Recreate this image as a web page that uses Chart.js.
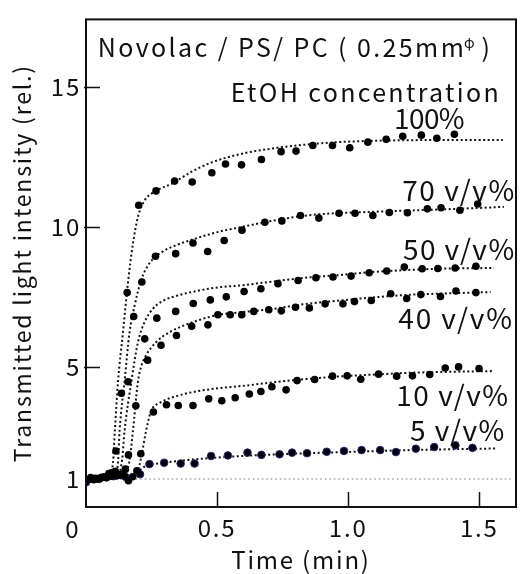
<!DOCTYPE html>
<html>
<head>
<meta charset="utf-8">
<title>Transmitted light intensity</title>
<script src="https://cdn.jsdelivr.net/npm/chart.js@4.4.1/dist/chart.umd.min.js"></script>
<style>
  body { margin: 0; background: #fff; }
</style>
</head>
<body>
<canvas id="myChart" width="521" height="574"></canvas>
<script>
// measured points, [time (min), transmitted intensity (rel.)]
var pts100 = [[0.0, 0.95], [0.037, 1.02], [0.07, 1.08], [0.099, 1.23], [0.114, 2.0], [0.135, 4.06], [0.157, 7.65], [0.201, 10.77], [0.267, 11.28], [0.338, 11.63], [0.405, 11.60], [0.48, 11.93], [0.532, 12.24], [0.593, 12.21], [0.669, 12.40], [0.744, 12.68], [0.801, 12.70], [0.865, 12.90], [0.94, 12.90], [1.006, 12.82], [1.075, 13.02], [1.145, 13.12], [1.208, 13.23], [1.279, 13.27], [1.338, 13.16], [1.405, 13.30]];
var pts70 = [[0.018, 1.05], [0.055, 1.03], [0.087, 1.19], [0.125, 1.15], [0.160, 4.47], [0.182, 6.80], [0.213, 8.03], [0.265, 8.95], [0.342, 9.04], [0.408, 9.42], [0.464, 9.12], [0.527, 9.51], [0.595, 9.88], [0.682, 10.16], [0.747, 10.21], [0.818, 10.40], [0.888, 10.31], [0.965, 10.48], [1.026, 10.48], [1.094, 10.40], [1.157, 10.51], [1.226, 10.50], [1.302, 10.64], [1.354, 10.68], [1.426, 10.59], [1.494, 10.81]];
var pts50 = [[0.01, 0.98], [0.045, 1.0], [0.08, 1.05], [0.112, 1.27], [0.15, 1.35], [0.162, 1.86], [0.224, 6.0], [0.270, 6.74], [0.342, 6.98], [0.409, 7.26], [0.474, 7.39], [0.535, 7.50], [0.603, 7.69], [0.667, 7.79], [0.732, 7.97], [0.809, 8.08], [0.877, 8.18], [0.942, 8.21], [1.011, 8.24], [1.080, 8.36], [1.147, 8.42], [1.214, 8.56], [1.282, 8.50], [1.342, 8.51], [1.408, 8.53], [1.487, 8.59]];
var pts40 = [[0.025, 1.0], [0.06, 1.06], [0.095, 1.1], [0.137, 1.17], [0.190, 3.61], [0.235, 5.24], [0.286, 5.77], [0.345, 6.12], [0.403, 6.45], [0.465, 6.50], [0.503, 6.86], [0.550, 6.86], [0.594, 6.86], [0.640, 6.98], [0.697, 7.04], [0.745, 7.00], [0.799, 7.13], [0.852, 7.10], [0.912, 7.25], [0.980, 7.25], [1.024, 7.33], [1.088, 7.37], [1.162, 7.61], [1.223, 7.44], [1.277, 7.58], [1.352, 7.51], [1.411, 7.71], [1.487, 7.65]];
var pts10 = [[0.03, 0.97], [0.075, 1.05], [0.12, 1.12], [0.162, 0.94], [0.178, 1.08], [0.194, 1.29], [0.209, 1.90], [0.257, 3.39], [0.307, 3.65], [0.352, 3.62], [0.408, 3.62], [0.468, 3.86], [0.518, 3.79], [0.569, 3.90], [0.623, 4.03], [0.667, 4.12], [0.709, 4.29], [0.763, 4.18], [0.805, 4.51], [0.872, 4.55], [0.940, 4.67], [0.996, 4.68], [1.048, 4.56], [1.116, 4.74], [1.185, 4.67], [1.245, 4.68], [1.311, 4.73], [1.370, 4.96], [1.421, 5.00], [1.499, 4.94]];
var pts5 = [[0.0, 0.88], [0.05, 1.0], [0.105, 1.1], [0.15, 1.08], [0.206, 1.17], [0.242, 1.53], [0.298, 1.58], [0.361, 1.55], [0.414, 1.55], [0.477, 1.82], [0.541, 1.84], [0.616, 1.94], [0.669, 1.86], [0.738, 1.88], [0.786, 1.94], [0.843, 1.92], [0.918, 1.97], [0.984, 2.0], [1.051, 2.03], [1.122, 2.03], [1.182, 1.96], [1.258, 2.08], [1.328, 2.14], [1.409, 2.20], [1.474, 2.11]];

// fitted curves (dotted)
var fit100 = [[0.06, 1.0], [0.09, 1.1], [0.103, 1.6], [0.110, 2.71], [0.122, 4.47], [0.141, 6.23], [0.160, 8.0], [0.179, 9.4], [0.198, 10.35], [0.223, 10.93], [0.267, 11.28], [0.33, 11.55], [0.40, 11.95], [0.48, 12.3], [0.606, 12.63], [0.732, 12.82], [0.858, 12.95], [0.984, 13.03], [1.109, 13.07], [1.235, 13.09], [1.59, 13.1]];
var fit70 = [[0.06, 1.0], [0.11, 1.1], [0.122, 1.6], [0.128, 2.71], [0.147, 4.47], [0.166, 6.23], [0.185, 7.17], [0.211, 8.11], [0.242, 8.70], [0.292, 9.11], [0.343, 9.34], [0.418, 9.58], [0.506, 9.82], [0.582, 9.97], [0.732, 10.25], [0.858, 10.42], [1.109, 10.54], [1.361, 10.62], [1.594, 10.71]];
var fit50 = [[0.06, 1.0], [0.12, 1.1], [0.138, 1.7], [0.147, 2.71], [0.173, 4.47], [0.198, 5.88], [0.223, 6.59], [0.254, 7.06], [0.292, 7.35], [0.343, 7.53], [0.418, 7.70], [0.506, 7.84], [0.582, 7.90], [0.707, 8.04], [0.833, 8.18], [0.958, 8.27], [1.084, 8.38], [1.21, 8.45], [1.336, 8.5], [1.556, 8.53]];
var fit40 = [[0.06, 1.0], [0.14, 1.1], [0.165, 1.6], [0.179, 2.71], [0.198, 4.47], [0.21, 5.0], [0.229, 5.41], [0.267, 5.88], [0.317, 6.23], [0.406, 6.59], [0.506, 6.86], [0.582, 6.94], [0.707, 7.06], [0.833, 7.24], [0.958, 7.36], [1.084, 7.47], [1.21, 7.56], [1.336, 7.61], [1.543, 7.67]];
var fit10 = [[0.06, 1.0], [0.18, 1.1], [0.2, 1.35], [0.215, 2.0], [0.229, 2.71], [0.248, 3.42], [0.28, 3.71], [0.343, 3.95], [0.418, 4.12], [0.506, 4.24], [0.606, 4.33], [0.732, 4.47], [0.858, 4.58], [0.984, 4.67], [1.109, 4.73], [1.235, 4.79], [1.361, 4.82], [1.55, 4.85]];
var fit5 = [[0.06, 1.0], [0.18, 1.1], [0.22, 1.42], [0.3, 1.58], [0.48, 1.75], [0.732, 1.88], [0.984, 1.96], [1.235, 2.03], [1.569, 2.09]];

// initial level
var baseLevel = [[0.19, 1], [1.62, 1]];

var seriesNames = ['100%', '70 v/v%', '50 v/v%', '40 v/v%', '10 v/v%', '5 v/v%'];
var xTicks = [0, 0.5, 1.0, 1.5];
var xTickLabels = ['0', '0.5', '1.0', '1.5'];
var yTicks = [1, 5, 10, 15];
var yTickLabels = ['1', '5', '10', '15'];
var titleParts = ['Novolac / PS/ PC ( 0.25mm', 'φ', ')'];
var legendTitle = 'EtOH concentration';

var FONT = "'Noto Sans CJK JP', 'DejaVu Sans', sans-serif";
Chart.defaults.font.family = FONT;
Chart.defaults.color = '#111';

function toXY(arr) {
    return arr.map(function (p) { return { x: p[0], y: p[1] }; });
}

function dots(arr, edge) {
    return {
        data: toXY(arr),
        showLine: false,
        pointRadius: 3.8,
        pointBackgroundColor: '#000',
        pointBorderColor: edge || '#000',
        pointBorderWidth: edge ? 1 : 0,
        order: 1
    };
}

function fitLine(arr) {
    return {
        data: toXY(arr),
        showLine: true,
        pointRadius: 0,
        borderColor: '#111',
        borderWidth: 2,
        borderDash: [2, 2.5],
        cubicInterpolationMode: 'monotone',
        order: 2
    };
}

// text stretched to a given pixel width with letter spacing
function spacedText(ctx, text, x, y, width) {
    ctx.letterSpacing = '0px';
    var natural = ctx.measureText(text).width;
    var gap = text.length > 1 ? (width - natural) / (text.length - 1) : 0;
    ctx.letterSpacing = gap + 'px';
    ctx.fillText(text, x, y);
    ctx.letterSpacing = '0px';
}

// label boxes in data units: left time, right time, middle value
var labelSpots = [
    [1.175, 1.444, 13.88],
    [1.206, 1.633, 11.31],
    [1.209, 1.633, 9.19],
    [1.191, 1.625, 6.73],
    [1.183, 1.610, 3.98],
    [1.236, 1.595, 2.75]
];

var framePlugin = {
    id: 'frame',
    beforeDraw: function (chart) {
        chart.ctx.letterSpacing = '1.8px';
    },
    afterDraw: function (chart) {
        var ctx = chart.ctx, a = chart.chartArea;
        var xs = chart.scales.x, ys = chart.scales.y;
        ctx.save();
        ctx.letterSpacing = '0px';
        ctx.strokeStyle = '#111';
        ctx.lineWidth = 2;
        ctx.strokeRect(a.left, a.top, a.right - a.left, a.bottom - a.top);

        // inward tick marks
        ctx.lineWidth = 1.5;
        ctx.beginPath();
        xTicks.forEach(function (v) {
            if (v === 0) return;
            var px = Math.round(xs.getPixelForValue(v)) + 0.5;
            ctx.moveTo(px, a.bottom);
            ctx.lineTo(px, a.bottom - 15);
        });
        yTicks.forEach(function (v) {
            if (v < 5) return; // the initial level has no mark
            var py = Math.round(ys.getPixelForValue(v)) + 0.5;
            ctx.moveTo(a.left - 2, py);
            ctx.lineTo(a.left + 14, py);
        });
        ctx.stroke();

        ctx.fillStyle = '#111';
        ctx.textBaseline = 'middle';

        // origin label sits at the corner
        ctx.font = '24px ' + FONT;
        ctx.textAlign = 'center';
        ctx.fillText(xTickLabels[0], a.left - 14, a.bottom + 22);
        ctx.textAlign = 'left';

        // heading
        ctx.font = '25px ' + FONT;
        spacedText(ctx, titleParts[0], xs.getPixelForValue(0.045), ys.getPixelForValue(16.41), 366);
        ctx.font = '14px ' + FONT;
        ctx.fillText(titleParts[1], xs.getPixelForValue(1.442), ys.getPixelForValue(16.58));
        ctx.font = '25px ' + FONT;
        ctx.fillText(titleParts[2], xs.getPixelForValue(1.508), ys.getPixelForValue(16.41));
        spacedText(ctx, legendTitle, xs.getPixelForValue(0.552), ys.getPixelForValue(14.79), 268);

        // concentration labels
        ctx.font = '28px ' + FONT;
        seriesNames.forEach(function (name, i) {
            var s = labelSpots[i];
            var x0 = xs.getPixelForValue(s[0]);
            var x1 = xs.getPixelForValue(s[1]);
            spacedText(ctx, name, x0, ys.getPixelForValue(s[2]), x1 - x0);
        });
        ctx.restore();
    }
};

const ctx = document.getElementById('myChart');

new Chart(ctx, {
    type: 'scatter',
    data: {
        datasets: [
            dots(pts100), dots(pts70), dots(pts50), dots(pts40), dots(pts10), dots(pts5, '#23238a'),
            fitLine(fit100), fitLine(fit70), fitLine(fit50), fitLine(fit40), fitLine(fit10), fitLine(fit5),
            {
                data: toXY(baseLevel),
                showLine: true,
                pointRadius: 0,
                borderColor: '#777',
                borderWidth: 1.2,
                borderDash: [1.5, 3],
                order: 3
            }
        ]
    },
    options: {
        responsive: false,
        animation: false,
        devicePixelRatio: 1,
        layout: { padding: { top: 13, right: 1, left: 0, bottom: 0 } },
        plugins: {
            legend: { display: false },
            tooltip: { enabled: false }
        },
        scales: {
            x: {
                type: 'linear',
                min: 0,
                max: 1.64,
                grid: { display: false, drawTicks: false },
                border: { display: false },
                afterBuildTicks: function (scale) {
                    scale.ticks = xTicks.map(function (v) { return { value: v }; });
                },
                ticks: {
                    color: '#111',
                    font: { size: 24 },
                    padding: 6,
                    maxRotation: 0,
                    autoSkip: false,
                    callback: function (value, index) {
                        return index === 0 ? '' : xTickLabels[index];
                    }
                },
                title: {
                    display: true,
                    text: 'Time (min)',
                    color: '#111',
                    font: { size: 24 },
                    padding: { top: 0, bottom: 0 }
                },
                afterFit: function (scale) { scale.height = 67; }
            },
            y: {
                type: 'linear',
                min: 0,
                max: 17.4,
                grid: { display: false, drawTicks: false },
                border: { display: false },
                afterBuildTicks: function (scale) {
                    scale.ticks = yTicks.map(function (v) { return { value: v }; });
                },
                ticks: {
                    color: '#111',
                    font: { size: 24 },
                    padding: 5,
                    autoSkip: false,
                    callback: function (value, index) { return yTickLabels[index]; }
                },
                title: {
                    display: true,
                    text: 'Transmitted light intensity (rel.)',
                    color: '#111',
                    font: { size: 23 },
                    padding: { top: 8, bottom: 0 }
                },
                afterFit: function (scale) { scale.width = 86; }
            }
        }
    },
    plugins: [framePlugin]
});
</script>
</body>
</html>
